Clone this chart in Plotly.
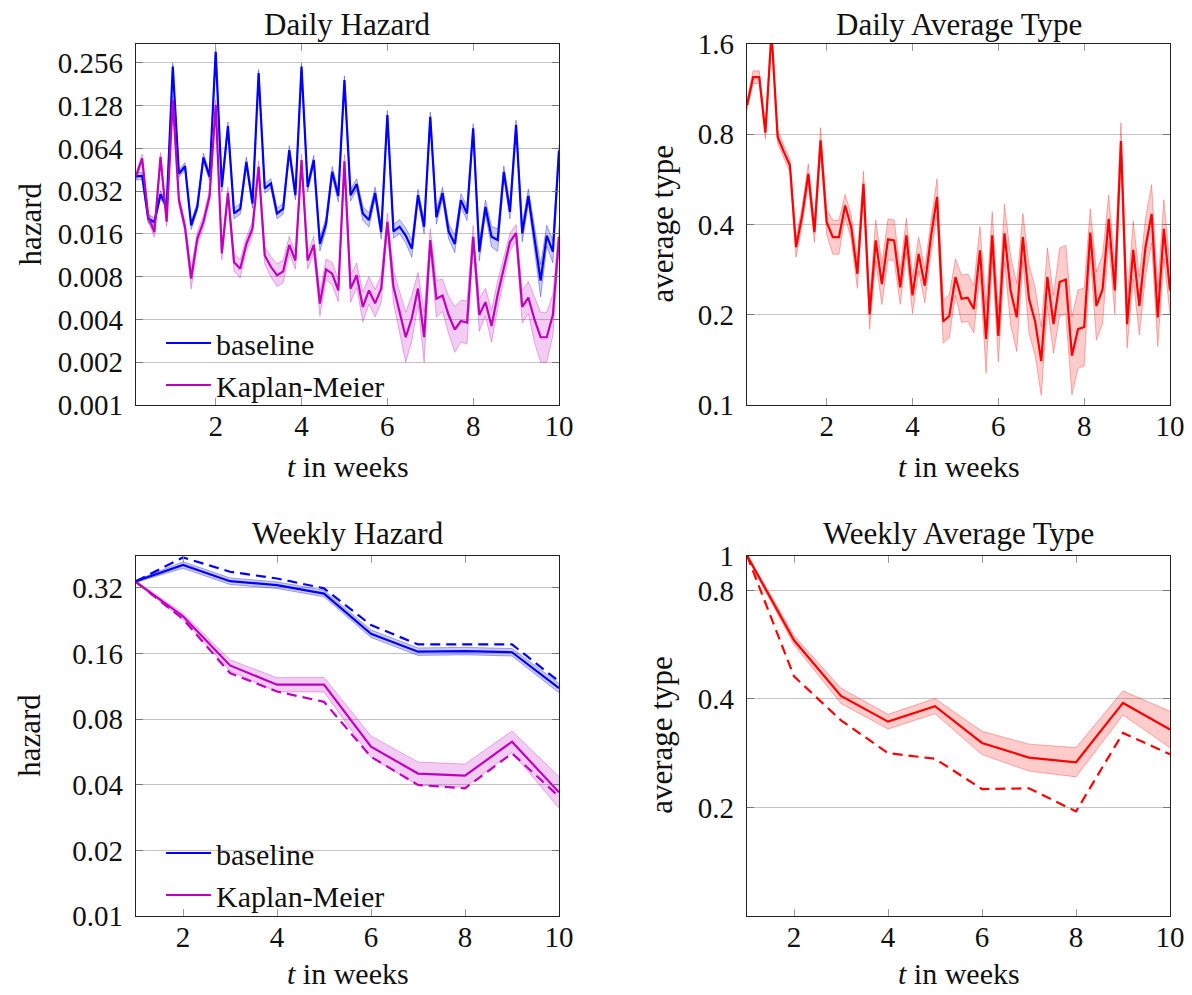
import math
import plotly.graph_objects as go

# ---------------- data ----------------
days = list(range(1, 71))          # day index, t = day / 7 weeks
weeks = list(range(1, 11))

daily_baseline = [0.0407, 0.041, 0.0205, 0.0194, 0.0305, 0.0248, 0.241, 0.0425, 0.048, 0.0184,
                  0.0248, 0.0553, 0.0405, 0.307, 0.0343, 0.092, 0.0223, 0.024, 0.0515, 0.0262,
                  0.217, 0.0335, 0.0363, 0.0223, 0.024, 0.0622, 0.030, 0.241, 0.0343, 0.053,
                  0.0136, 0.0189, 0.0438, 0.0296, 0.194, 0.030, 0.0359, 0.0223, 0.0201, 0.0311,
                  0.0165, 0.110, 0.0167, 0.0180, 0.0156, 0.0126, 0.030, 0.018, 0.107, 0.021,
                  0.0311, 0.0167, 0.0136, 0.0277, 0.0223, 0.0886, 0.012, 0.0248, 0.0153, 0.0145,
                  0.0438, 0.0229, 0.0937, 0.0162, 0.0296, 0.015, 0.0075, 0.0156, 0.012, 0.062]
daily_km = [0.0407, 0.0546, 0.021, 0.0165, 0.0559, 0.0195, 0.140, 0.0277, 0.0178, 0.00775,
            0.0148, 0.0195, 0.0296, 0.130, 0.0117, 0.0311, 0.0101, 0.0091, 0.0136, 0.0175,
            0.0476, 0.0113, 0.0094, 0.0082, 0.0087, 0.0134, 0.0104, 0.053, 0.0104, 0.0134,
            0.00517, 0.009, 0.0084, 0.0064, 0.052, 0.0066, 0.0082, 0.0049, 0.0064, 0.0052,
            0.0066, 0.0195, 0.0068, 0.0045, 0.0030, 0.0041, 0.0066, 0.0030, 0.0145, 0.0056,
            0.0059, 0.0043, 0.0034, 0.0039, 0.0038, 0.0153, 0.0043, 0.0053, 0.0036, 0.0060,
            0.0094, 0.0141, 0.0162, 0.0049, 0.0057, 0.0040, 0.0030, 0.0030, 0.0043, 0.0153]
daily_type = [1.0, 1.24, 1.24, 0.81, 1.75, 0.784, 0.70, 0.63, 0.336, 0.429,
              0.59, 0.377, 0.764, 0.407, 0.363, 0.363, 0.463, 0.392, 0.274, 0.547,
              0.201, 0.354, 0.253, 0.357, 0.354, 0.247, 0.368, 0.232, 0.319, 0.25,
              0.363, 0.494, 0.19, 0.198, 0.267, 0.226, 0.228, 0.209, 0.328, 0.166,
              0.368, 0.17, 0.374, 0.241, 0.196, 0.363, 0.226, 0.19, 0.14, 0.267,
              0.186, 0.257, 0.262, 0.146, 0.179, 0.182, 0.376, 0.214, 0.243, 0.418,
              0.241, 0.76, 0.186, 0.329, 0.214, 0.336, 0.434, 0.196, 0.387, 0.241]

# multiplicative half-widths of the confidence bands
daily_baseline_band = [1.06, 1.06, 1.07, 1.07, 1.06, 1.06, 1.06, 1.06, 1.06, 1.07,
                       1.07, 1.07, 1.07, 1.06, 1.08, 1.07, 1.09, 1.09, 1.08, 1.08,
                       1.06, 1.08, 1.08, 1.09, 1.09, 1.08, 1.08, 1.06, 1.08, 1.08,
                       1.12, 1.1, 1.09, 1.1, 1.07, 1.1, 1.09, 1.12, 1.12, 1.1,
                       1.12, 1.08, 1.12, 1.12, 1.13, 1.15, 1.1, 1.12, 1.08, 1.12,
                       1.1, 1.13, 1.15, 1.11, 1.12, 1.08, 1.16, 1.12, 1.18, 1.2,
                       1.1, 1.12, 1.08, 1.15, 1.12, 1.18, 1.3, 1.18, 1.2, 1.1]
daily_km_band = [1.06, 1.07, 1.08, 1.09, 1.07, 1.08, 1.07, 1.08, 1.1, 1.18,
                 1.12, 1.1, 1.1, 1.08, 1.12, 1.1, 1.15, 1.16, 1.12, 1.12,
                 1.1, 1.15, 1.18, 1.2, 1.2, 1.15, 1.15, 1.1, 1.15, 1.15,
                 1.22, 1.18, 1.2, 1.2, 1.12, 1.25, 1.22, 1.28, 1.25, 1.25,
                 1.25, 1.15, 1.3, 1.4, 1.5, 1.45, 1.3, 1.5, 1.2, 1.35,
                 1.3, 1.35, 1.45, 1.4, 1.42, 1.2, 1.3, 1.25, 1.3, 1.25,
                 1.2, 1.15, 1.15, 1.3, 1.3, 1.45, 1.5, 1.5, 1.4, 1.2]
daily_type_band = [1.04, 1.05, 1.05, 1.05, 1.05, 1.05, 1.05, 1.05, 1.08, 1.07,
                   1.08, 1.08, 1.1, 1.1, 1.14, 1.14, 1.09, 1.1, 1.12, 1.1,
                   1.12, 1.17, 1.17, 1.17, 1.17, 1.14, 1.14, 1.15, 1.14, 1.14,
                   1.13, 1.15, 1.18, 1.18, 1.15, 1.2, 1.2, 1.2, 1.2, 1.3,
                   1.2, 1.22, 1.25, 1.3, 1.3, 1.2, 1.3, 1.3, 1.3, 1.25,
                   1.25, 1.3, 1.3, 1.35, 1.35, 1.35, 1.2, 1.3, 1.3, 1.2,
                   1.2, 1.15, 1.2, 1.25, 1.25, 1.25, 1.25, 1.25, 1.25, 1.2]

weekly_baseline = [0.343, 0.407, 0.343, 0.329, 0.301, 0.197, 0.163, 0.164, 0.162, 0.111]
weekly_baseline_dashed = [0.343, 0.441, 0.379, 0.353, 0.318, 0.216, 0.176, 0.176, 0.176, 0.119]
weekly_km = [0.340, 0.237, 0.141, 0.115, 0.115, 0.0598, 0.045, 0.044, 0.063, 0.0369]
weekly_km_dashed = [0.340, 0.230, 0.130, 0.107, 0.096, 0.0537, 0.0399, 0.0385, 0.0557, 0.0353]
weekly_type = [1.0, 0.582, 0.408, 0.346, 0.382, 0.302, 0.275, 0.267, 0.39, 0.329]
weekly_type_dashed = [1.0, 0.462, 0.349, 0.283, 0.273, 0.225, 0.226, 0.195, 0.322, 0.281]

weekly_baseline_band = [1.01, 1.035, 1.035, 1.035, 1.035, 1.04, 1.04, 1.04, 1.04, 1.05]
weekly_km_band = [1.01, 1.03, 1.06, 1.077, 1.08, 1.12, 1.13, 1.13, 1.12, 1.18]
weekly_type_band = [1.01, 1.03, 1.05, 1.048, 1.05, 1.077, 1.09, 1.098, 1.08, 1.124]

hazard_daily_ticks = [0.001, 0.002, 0.004, 0.008, 0.016, 0.032, 0.064, 0.128, 0.256]
hazard_weekly_ticks = [0.01, 0.02, 0.04, 0.08, 0.16, 0.32]
type_daily_ticks = [0.1, 0.2, 0.4, 0.8, 1.6]
type_weekly_ticks = [0.2, 0.4, 0.8, 1]
x_ticks = [2, 4, 6, 8, 10]

# ---------------- styling ----------------
FONT = "Liberation Serif, Times New Roman, serif"
FS = 29      # tick labels
FS_T = 31    # titles, axis titles
FS_L = 30    # legend
BLUE = "#0000ff"
MAG = "#bf00bf"
RED = "#ff0000"
BAND = {BLUE: "rgba(0,0,255,0.2)", MAG: "rgba(191,0,191,0.2)", RED: "rgba(255,0,0,0.2)"}
EDGE = {BLUE: "rgba(0,0,255,0.35)", MAG: "rgba(191,0,191,0.3)", RED: "rgba(255,0,0,0.3)"}

fig = go.Figure()


def add_band(x, y, band, color, xa, ya):
    lo = [v / f for v, f in zip(y, band)]
    hi = [v * f for v, f in zip(y, band)]
    fig.add_trace(go.Scatter(x=x, y=hi, mode="lines", line=dict(color=EDGE[color], width=1),
                             xaxis=xa, yaxis=ya, showlegend=False, hoverinfo="skip"))
    fig.add_trace(go.Scatter(x=x, y=lo, mode="lines", line=dict(color=EDGE[color], width=1),
                             fill="tonexty", fillcolor=BAND[color],
                             xaxis=xa, yaxis=ya, showlegend=False, hoverinfo="skip"))


def add_line(x, y, color, xa, ya, name=None, legend=None, dash=None, width=2.2):
    fig.add_trace(go.Scatter(x=x, y=y, mode="lines",
                             line=dict(color=color, width=width, dash=dash or "solid"),
                             xaxis=xa, yaxis=ya, name=name,
                             showlegend=name is not None, legend=legend))


t_daily = [d / 7 for d in days]

# Daily hazard
add_band(t_daily, daily_baseline, daily_baseline_band, BLUE, "x", "y")
add_band(t_daily, daily_km, daily_km_band, MAG, "x", "y")
add_line(t_daily, daily_baseline, BLUE, "x", "y", "baseline", "legend")
add_line(t_daily, daily_km, MAG, "x", "y", "Kaplan-Meier", "legend")

# Daily average type
add_band(t_daily, daily_type, daily_type_band, RED, "x2", "y2")
add_line(t_daily, daily_type, RED, "x2", "y2")

# Weekly hazard
add_band(weeks, weekly_baseline, weekly_baseline_band, BLUE, "x3", "y3")
add_band(weeks, weekly_km, weekly_km_band, MAG, "x3", "y3")
add_line(weeks, weekly_baseline_dashed, BLUE, "x3", "y3", dash="10px,6px")
add_line(weeks, weekly_km_dashed, MAG, "x3", "y3", dash="10px,6px")
add_line(weeks, weekly_baseline, BLUE, "x3", "y3", "baseline", "legend2")
add_line(weeks, weekly_km, MAG, "x3", "y3", "Kaplan-Meier", "legend2")

# Weekly average type
add_band(weeks, weekly_type, weekly_type_band, RED, "x4", "y4")
add_line(weeks, weekly_type_dashed, RED, "x4", "y4", dash="10px,6px")
add_line(weeks, weekly_type, RED, "x4", "y4")

# the page body has an 8px margin: shift coordinates so the screenshot matches
OFF = 8
W, H = 1192 - OFF, 995 - OFF


def fx(x):
    return (x - OFF) / W


def fy(y):
    return 1 - (y - OFF) / H


LX = [fx(136), fx(559)]
RX = [fx(747), fx(1170)]
TY = [fy(405), fy(44)]
BY = [fy(916), fy(555.5)]


def xax(dom, anchor, rng):
    return dict(domain=dom, anchor=anchor, range=rng, tickvals=x_ticks,
                ticks="inside", ticklen=7, tickcolor="#9a9a9a", tickwidth=1.3,
                showline=True, linecolor="#222", linewidth=1.3, mirror="ticks",
                showgrid=False, zeroline=False, ticklabelstandoff=-5, automargin=False,
                ticklabeloverflow="allow",
                tickfont=dict(family=FONT, size=FS, color="#111"))


def yax(dom, anchor, rng, ticks):
    return dict(domain=dom, anchor=anchor, type="log",
                range=[math.log10(rng[0]), math.log10(rng[1])],
                tickvals=ticks, ticktext=[str(v) for v in ticks],
                ticks="inside", ticklen=7, tickcolor="#777", tickwidth=1.3,
                showline=True, linecolor="#222", linewidth=1.3, mirror="ticks",
                showgrid=True, gridcolor="#c4c4c4", gridwidth=1, zeroline=False,
                ticklabelstandoff=6, automargin=False, ticklabeloverflow="allow",
                tickfont=dict(family=FONT, size=FS, color="#111"))


def leg(ybottom):
    return dict(x=fx(161), y=fy(ybottom), xanchor="left", yanchor="bottom",
                bgcolor="rgba(255,255,255,0)", borderwidth=0, traceorder="normal",
                itemwidth=45,
                font=dict(family=FONT, size=FS_L, color="#111"), tracegroupgap=0)


fig.update_layout(
    width=W, height=H, autosize=False,
    margin=dict(l=0, r=0, t=0, b=0, pad=0, autoexpand=False),
    plot_bgcolor="white", paper_bgcolor="white",
    font=dict(family=FONT, size=FS, color="#111"),
    xaxis=xax(LX, "y", [1 / 7, 10]),
    yaxis=yax(TY, "x", [0.001, 0.348], hazard_daily_ticks),
    xaxis2=xax(RX, "y2", [1 / 7, 10]),
    yaxis2=yax(TY, "x2", [0.1, 1.6], type_daily_ticks),
    xaxis3=xax(LX, "y3", [1, 10]),
    yaxis3=yax(BY, "x3", [0.01, 0.45], hazard_weekly_ticks),
    xaxis4=xax(RX, "y4", [1, 10]),
    yaxis4=yax(BY, "x4", [0.1, 1.0], type_weekly_ticks),
    legend=leg(411),
    legend2=leg(921),
    showlegend=True,
)


def ann(text, x, y, angle=0, size=FS_T):
    fig.add_annotation(text=text, x=fx(x), y=fy(y), xref="paper", yref="paper",
                       showarrow=False, textangle=angle, xanchor="center", yanchor="middle",
                       font=dict(family=FONT, size=size, color="#111"))


ann("Daily Hazard", 347.5, 24)
ann("Daily Average Type", 958.5, 24)
ann("Weekly Hazard", 347.5, 533)
ann("Weekly Average Type", 958.5, 533)
ann("<i>t</i> in weeks", 347.5, 467, size=30)
ann("<i>t</i> in weeks", 958.5, 467, size=30)
ann("<i>t</i> in weeks", 347.5, 973, size=30)
ann("<i>t</i> in weeks", 958.5, 973, size=30)
ann("hazard", 30, 224.5, -90)
ann("average type", 662, 224.5, -90)
ann("hazard", 30, 735.75, -90)
ann("average type", 662, 735.75, -90)

fig.write_html("out.html")
